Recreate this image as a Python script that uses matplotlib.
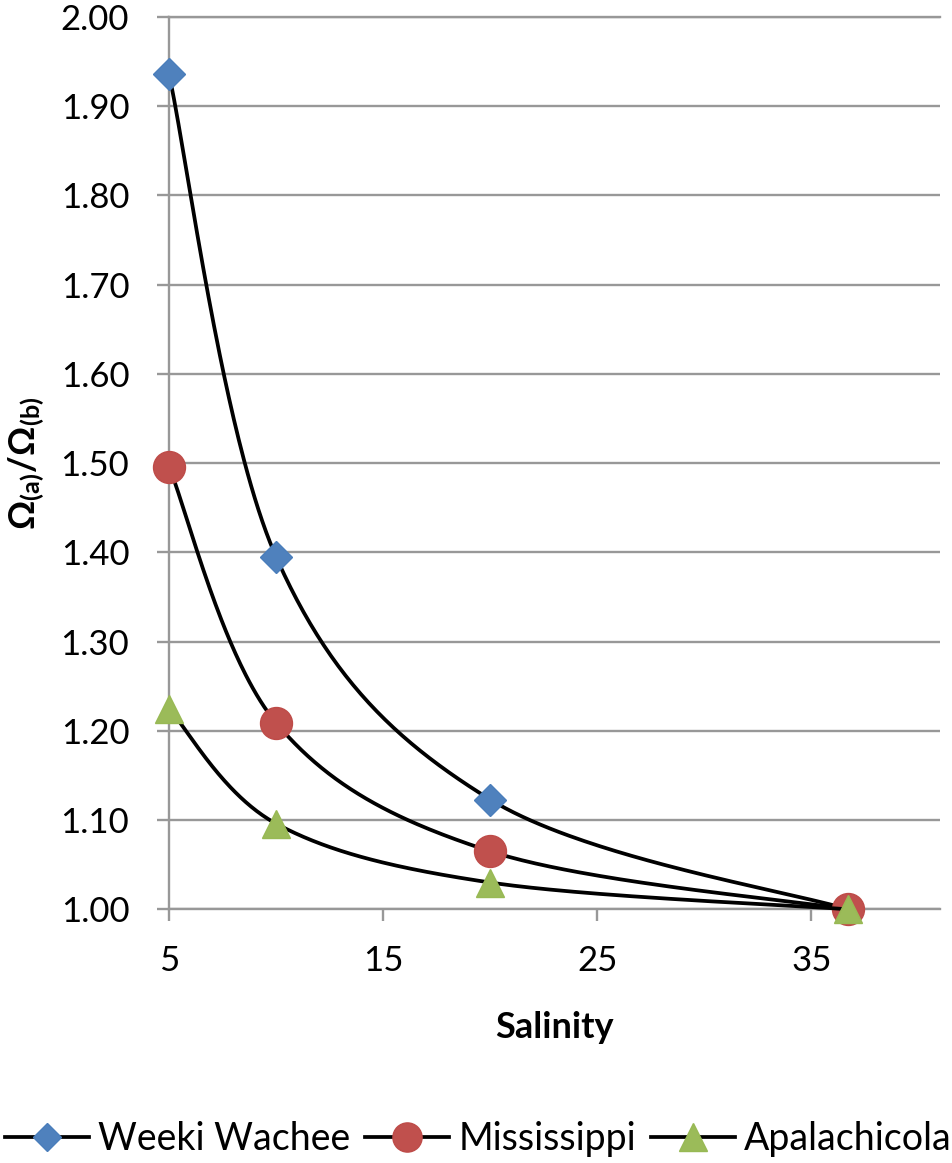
import numpy as np
import matplotlib
matplotlib.use('Agg')
import matplotlib.pyplot as plt
from matplotlib.lines import Line2D

# ---- data ----
salinity = [5, 10, 20, 36.7]
weeki_wachee = [1.936, 1.395, 1.123, 1.000]
mississippi = [1.496, 1.209, 1.065, 1.000]
apalachicola = [1.225, 1.096, 1.030, 1.000]
series_names = ['Weeki Wachee', 'Mississippi', 'Apalachicola']
y_ticks = [1.00, 1.10, 1.20, 1.30, 1.40, 1.50, 1.60, 1.70, 1.80, 1.90, 2.00]
x_ticks = [5, 15, 25, 35]
x_tick_labels = ['5', '15', '25', '35']

plt.rcParams['font.family'] = ['Lato', 'DejaVu Sans']
plt.rcParams['mathtext.fontset'] = 'custom'
plt.rcParams['mathtext.bf'] = 'Lato:bold'
plt.rcParams['mathtext.rm'] = 'Lato:bold'
plt.rcParams['mathtext.it'] = 'Lato:bold'
plt.rcParams['mathtext.fallback'] = 'stixsans'


def excel_smooth(x, y, n=80):
    """Catmull-Rom style Bezier smoothing (like Excel's smoothed line)."""
    P = np.column_stack([x, y]).astype(float)
    ext = np.vstack([P[0], P, P[-1]])
    t = np.linspace(0, 1, n)[1:, None]
    out = [P[:1]]
    for i in range(len(P) - 1):
        p0 = ext[i + 1]
        p3 = ext[i + 2]
        c1 = p0 + (ext[i + 2] - ext[i]) / 6.0
        c2 = p3 - (ext[i + 3] - ext[i + 1]) / 6.0
        seg = ((1 - t) ** 3) * p0 + 3 * ((1 - t) ** 2) * t * c1 \
            + 3 * (1 - t) * t ** 2 * c2 + t ** 3 * p3
        out.append(seg)
    arr = np.vstack(out)
    return arr[:, 0], arr[:, 1]


GRAY = '#989898'
colors = ['#4F81BD', '#C0504D', '#9BBB59']
edges = ['#4A7EBB', '#BE4B48', '#98B954']
markers = ['D', 'o', '^']
msizes = [16.5, 23, 20]
leg_msizes = [14, 21, 20]
all_series = [weeki_wachee, mississippi, apalachicola]

fig = plt.figure(figsize=(9.53, 11.63), dpi=100)
ax = fig.add_axes([169 / 953, 1 - 909.3 / 1163, (940 - 169) / 953, (909.3 - 17) / 1163])

z = 3
handles = []
for vals, c, ec, m, ms, lms in zip(all_series, colors, edges, markers, msizes, leg_msizes):
    sx, sy = excel_smooth(salinity, vals)
    ax.plot(sx, sy, color='black', lw=2.7, solid_capstyle='butt', zorder=z, clip_on=False)
    ax.plot(salinity, vals, linestyle='none', marker=m, markersize=ms,
            markerfacecolor=c, markeredgecolor=ec, markeredgewidth=1.0,
            zorder=z + 1, clip_on=False)
    handles.append(Line2D([], [], color='black', lw=2.7, marker=m, markersize=lms,
                          markerfacecolor=c, markeredgecolor=ec, markeredgewidth=1.0))
    z += 2

ax.set_xlim(5, 41)
ax.set_ylim(1.0, 2.0)
ax.set_yticks(y_ticks)
ax.set_yticklabels([f'{v:.2f}' for v in y_ticks])
ax.set_xticks(x_ticks)
ax.set_xticklabels(x_tick_labels)

ax.yaxis.grid(True, color=GRAY, lw=1.7)
ax.set_axisbelow(True)
ax.spines['right'].set_visible(False)
for s in ['left', 'bottom', 'top']:
    ax.spines[s].set_color(GRAY)
    ax.spines[s].set_linewidth(1.7)

ax.tick_params(axis='y', direction='out', length=8.6, width=1.7, color=GRAY,
               pad=20, labelsize=25, labelcolor='black')
ax.tick_params(axis='x', direction='out', length=8.6, width=1.7, color=GRAY,
               pad=17, labelsize=25, labelcolor='black')

fig.text(27 / 953, 1 - 463 / 1163, r'$\mathbf{\Omega_{(a)}/\Omega_{(b)}}$',
         rotation=90, ha='center', va='center', fontsize=26)
fig.text(554.5 / 953, 1 - 1027 / 1163, 'Salinity', fontweight='bold',
         ha='center', va='center', fontsize=26)

fig.legend(handles, series_names, loc='center', bbox_to_anchor=(0.502, 1 - 1139 / 1163),
           ncol=3, frameon=False, fontsize=27, handlelength=2.24, handletextpad=0.24,
           columnspacing=0.4, borderaxespad=0, borderpad=0)

fig.savefig('out.png', dpi=100)
